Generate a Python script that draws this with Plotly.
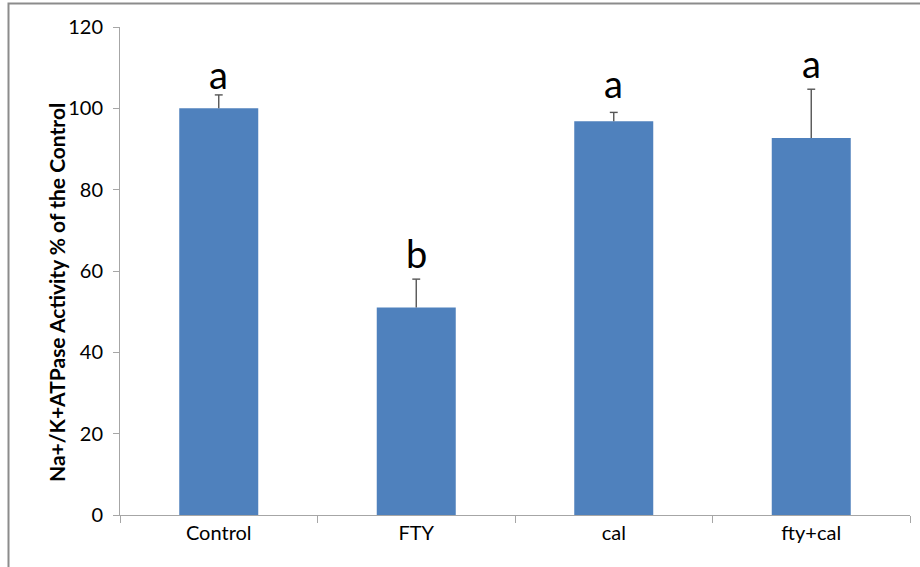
import plotly.graph_objects as go

categories = ["Control", "FTY", "cal", "fty+cal"]
values = [100, 51, 96.8, 92.7]
errors = [3.3, 7.0, 2.2, 12.0]
letters = ["a", "b", "a", "a"]
letter_y = [108.5, 64.5, 106.2, 111.2]
y_ticks = [0, 20, 40, 60, 80, 100, 120]

FONT = "Lato, Open Sans, sans-serif"
pos = list(range(len(categories)))
cap = 0.02

# error bar paths (upper half only, like the original)
ex, ey = [], []
for p, v, e in zip(pos, values, errors):
    ex += [p, p, None, p - cap, p + cap, None]
    ey += [v, v + e, None, v + e, v + e, None]

fig = go.Figure()
fig.add_trace(go.Bar(
    x=pos, y=values, width=0.4,
    marker=dict(color="#4F81BD", line=dict(width=0)),
    showlegend=False, hoverinfo="y",
))
fig.add_trace(go.Scatter(
    x=ex, y=ey, mode="lines", line=dict(color="#555555", width=1.4),
    showlegend=False, hoverinfo="skip",
))
for p, l, yy in zip(pos, letters, letter_y):
    fig.add_annotation(x=p, y=yy, text=l, showarrow=False,
                       font=dict(family=FONT, size=38, color="black"),
                       xref="x", yref="y", yanchor="middle")

fig.add_annotation(x=(56 - 120) / 790, y=(515 - 293) / 488, xref="paper", yref="paper",
                   xanchor="center", yanchor="middle",
                   text="<b>Na+/K+ATPase Activity % of the Control</b>",
                   textangle=-90, showarrow=False,
                   font=dict(family=FONT, size=21, color="black"))

fig.update_layout(
    width=920, height=567,
    margin=dict(l=120, r=10, t=27, b=52, autoexpand=False),
    paper_bgcolor="white", plot_bgcolor="white",
    xaxis=dict(range=[-0.5, 3.5], showline=True, linecolor="#A6A6A6", linewidth=1,
               tickvals=pos, ticktext=categories, ticks="", ticklen=0,
               minor=dict(tickvals=[p - 0.5 for p in pos] + [pos[-1] + 0.5],
                          ticks="outside", ticklen=7, tickcolor="#A6A6A6"),
               tickfont=dict(family=FONT, size=20, color="black"),
               showgrid=False, zeroline=False, automargin=False),
    yaxis=dict(range=[0, 120], tickvals=y_ticks, showline=True,
               linecolor="#A6A6A6", linewidth=1, ticks="outside", ticklen=6,
               tickcolor="#A6A6A6", showgrid=False, zeroline=False,
               tickfont=dict(family=FONT, size=20, color="black"),
               ticklabelstandoff=6, automargin=False),
    shapes=[dict(type="rect", xref="paper", yref="paper",
                 x0=-111.5 / 790, x1=1.1, y0=-0.2, y1=1 + 23.5 / 488,
                 line=dict(color="#8C8C8C", width=2), fillcolor="rgba(0,0,0,0)",
                 layer="below")],
)

fig.write_html("out.html", config={"displayModeBar": False},
               post_script="document.body.style.margin='0';")
